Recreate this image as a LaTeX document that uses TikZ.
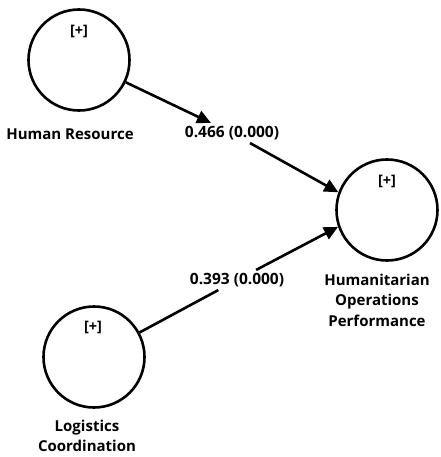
\documentclass[tikz,border=0pt]{standalone}
\usepackage{fontspec}
\setmainfont{Open Sans}
\usetikzlibrary{arrows.meta}
\begin{document}
\begin{tikzpicture}[x=1pt,y=-1pt,
        latent/.style={circle,draw,line width=2.6pt,minimum size=101pt,inner sep=0pt},
        plus/.style={font=\bfseries\fontsize{14.5}{16}\selectfont},
        coef/.style={font=\bfseries\fontsize{15.5}{18}\selectfont,inner sep=3pt},
        conname/.style={font=\bfseries\fontsize{15}{20.5}\selectfont,align=center},
        effect/.style={line width=2.6pt,-{Triangle[length=14pt,width=13pt]}}]
        \useasboundingbox (0,0) rectangle (440,457);
        % constructs
        \node [latent] (hr) at (79,60) {};
        \node [latent] (hop) at (387,210) {};
        \node [latent] (lc) at (94,357) {};
        \node [plus] (hrp) at (79,31) {[+]};
        \node [plus] (hopp) at (387,181) {[+]};
        \node [plus] (lcp) at (93,327) {[+]};
        \node [conname] (hrn) at (70,134) {Human Resource};
        \node [conname] (hopn) at (377,300) {Humanitarian\\Operations\\Performance};
        \node [conname] (lcn) at (87,436) {Logistics\\Coordination};
        % path coefficients
        \node [coef] (hrc) at (232,133) {0.466 (0.000)};
        \node [coef] (lcc) at (237,280) {0.393 (0.000)};
        \draw [effect] (hr) -- (hrc);
        \draw [effect] (hrc) -- (hop.160);
        \draw [line width=2.6pt] (lc) -- (lcc);
        \draw [effect] (lcc) -- (hop.199);
\end{tikzpicture}
\end{document}
